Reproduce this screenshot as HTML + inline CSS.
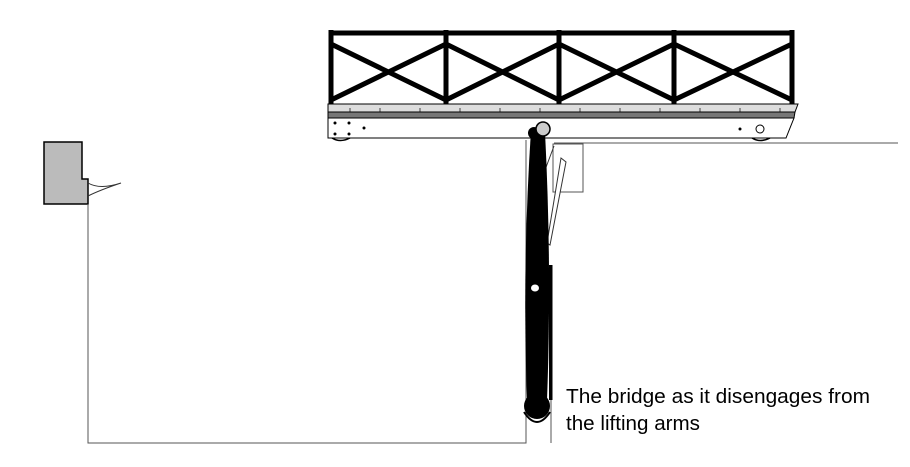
<!DOCTYPE html>
<html><head><style>body{margin:0;background:#fff}svg{display:block}</style></head><body>
<svg width="910" height="467" viewBox="0 0 910 467" xmlns="http://www.w3.org/2000/svg">
<g stroke="#000" stroke-width="5" fill="none">
<line x1="330" y1="33" x2="793" y2="33"/>
<line x1="331" y1="30" x2="331" y2="104"/><line x1="446" y1="30" x2="446" y2="104"/><line x1="559" y1="30" x2="559" y2="104"/><line x1="674" y1="30" x2="674" y2="104"/><line x1="792" y1="30" x2="792" y2="104"/>
<path d="M331 44L446 100M446 44L331 100M446 44L559 100M559 44L446 100M559 44L674 100M674 44L559 100M674 44L792 100M792 44L674 100"/>
</g>
<path d="M328 104H798L795 112H328Z" fill="#ddd" stroke="#000"/>
<path d="M328 112H795L794 118H328Z" fill="#777" stroke="#000"/>
<path d="M328 118H794L786 138H328Z" fill="#fff" stroke="#000"/>
<g stroke="#000" stroke-width="0.7"><line x1="350" y1="108" x2="350" y2="112"/><line x1="380" y1="108" x2="380" y2="112"/><line x1="420" y1="108" x2="420" y2="112"/><line x1="460" y1="108" x2="460" y2="112"/><line x1="500" y1="108" x2="500" y2="112"/><line x1="540" y1="108" x2="540" y2="112"/><line x1="580" y1="108" x2="580" y2="112"/><line x1="620" y1="108" x2="620" y2="112"/><line x1="660" y1="108" x2="660" y2="112"/><line x1="700" y1="108" x2="700" y2="112"/><line x1="740" y1="108" x2="740" y2="112"/><line x1="780" y1="108" x2="780" y2="112"/></g>
<g fill="#000"><circle cx="335" cy="123" r="1.5"/><circle cx="349" cy="123" r="1.5"/><circle cx="335" cy="134" r="1.5"/><circle cx="349" cy="134" r="1.5"/><circle cx="364" cy="128" r="1.5"/><circle cx="740" cy="129" r="1.5"/><circle cx="760" cy="129" r="4" fill="#fff" stroke="#000"/></g>
<path d="M332 138Q340 143 350 138M752 138Q760 143 770 138" stroke="#000" fill="none" stroke-width="1.5"/>
<line x1="554" y1="143" x2="898" y2="143" stroke="#555"/>
<rect x="553" y="144" width="30" height="48" fill="none" stroke="#555"/>
<path d="M44 142H82V179H88V204H44Z" fill="#bbb" stroke="#000" stroke-width="1.5"/>
<path d="M88 183Q100 190 121 183Q100 190 88 196" fill="none" stroke="#333"/>
<path d="M88 204V443H526V140M551 265V443" fill="none" stroke="#555"/>
<rect x="549" y="265" width="3.5" height="135" fill="#000"/>
<path d="M561 158L566 162L550 245L547 243Z" fill="#fff" stroke="#333"/>
<path d="M554 146L545 170" stroke="#333"/>
<path d="M531 130Q522 270 527 400L547 400Q552 270 545 132Z" fill="#000"/>
<circle cx="537" cy="406" r="13" fill="#000"/>
<path d="M524 412Q537 432 550 412" fill="none" stroke="#000" stroke-width="2"/>
<ellipse cx="535" cy="288" rx="4" ry="3.5" fill="#fff"/>
<circle cx="534" cy="133" r="6" fill="#000"/>
<circle cx="543" cy="129" r="7" fill="#ccc" stroke="#000" stroke-width="1.5"/>
<text x="566" y="403" font-family="Liberation Sans, sans-serif" font-size="20" textLength="304" lengthAdjust="spacingAndGlyphs" fill="#000">The bridge as it disengages from</text>
<text x="566" y="430" font-family="Liberation Sans, sans-serif" font-size="20" textLength="134" lengthAdjust="spacingAndGlyphs" fill="#000">the lifting arms</text>
</svg>
</body></html>
